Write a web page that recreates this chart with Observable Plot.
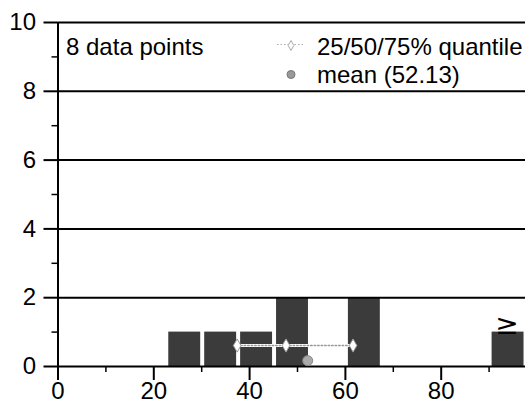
<!DOCTYPE html>
<html>
<head>
<meta charset="utf-8">
<script src="https://cdn.jsdelivr.net/npm/d3@7"></script>
<script src="https://cdn.jsdelivr.net/npm/@observablehq/plot@0.6"></script>
<style>
  html, body { margin: 0; padding: 0; background: white; }
</style>
</head>
<body>
<div id="chart"></div>
<script>
// Histogram bins (lower / upper edge) and counts
const binLow = [22.5, 30, 37.5, 45, 60, 90];
const binHigh = [30, 37.5, 45, 52.5, 67.5, 97.5];
const binCount = [1, 1, 1, 2, 2, 1];
// 25/50/75% quantiles and mean
const quantiles = [37.4, 47.6, 61.6];
const quantileLevel = 0.61;
const meanValue = [52.13];
const meanLevel = 0.17;
// tick values
const yMajor = [0, 2, 4, 6, 8, 10];
const yMinor = [1, 3, 5, 7, 9];
const xMajor = [0, 20, 40, 60, 80];
const xMinor = [10, 30, 50, 70, 90];
const gridLines = [2, 4, 6, 8, 10];
const nPoints = 8;

const bins = binLow.map((lo, i) => ({lo, hi: binHigh[i], n: binCount[i]}));
const lastBin = [bins[bins.length - 1]];

const lineSymbol = {
  draw(ctx, size) {
    ctx.moveTo(-14, 0);
    ctx.lineTo(14, 0);
  }
};

const chart = Plot.plot({
  width: 525,
  height: 410,
  marginLeft: 57.5,
  marginRight: 0,
  marginTop: 22,
  marginBottom: 44,
  x: {domain: [0, 97.6]},
  y: {domain: [0, 10]},
  style: {fontFamily: "'Liberation Sans', Arial, sans-serif", fontSize: "24px", color: "black", background: "white"},
  marks: [
    Plot.rectY(bins, {x1: "lo", x2: "hi", y: "n", fill: "#3b3b3b", insetLeft: 3, insetRight: 1}),
    Plot.ruleY(gridLines, {stroke: "black", strokeWidth: 2}),
    Plot.ruleY([0], {stroke: "black", strokeWidth: 2}),
    Plot.ruleX([0], {stroke: "black", strokeWidth: 2}),
    Plot.axisY({ticks: yMajor, tickSize: 14, tickPadding: 8, strokeWidth: 2, fontSize: 24, label: null}),
    Plot.axisY({ticks: yMinor, tickSize: 6, strokeWidth: 1.5, tickFormat: () => "", label: null}),
    Plot.axisX({ticks: xMajor, tickSize: 14, tickPadding: 1, strokeWidth: 2, fontSize: 24, label: null}),
    Plot.axisX({ticks: xMinor, tickSize: 6, strokeWidth: 1.5, tickFormat: () => "", label: null}),
    Plot.line(quantiles, {x: d => d, y: () => quantileLevel, stroke: "white", strokeWidth: 3}),
    Plot.line(quantiles, {x: d => d, y: () => quantileLevel, stroke: "#999", strokeWidth: 1.5, strokeDasharray: "1.5,2"}),
    Plot.dot(quantiles, {x: d => d, y: () => quantileLevel, symbol: "diamond", r: 4, fill: "white", stroke: "#999", strokeWidth: 1}),
    Plot.dot(meanValue, {x: d => d, y: () => meanLevel, r: 5, fill: "#aaa", stroke: "#888", strokeWidth: 1}),
    Plot.text(lastBin, {x: d => (d.lo + d.hi) / 2, y: "n", text: () => "≥", fontFamily: "'DejaVu Sans', sans-serif", fontSize: 28, lineAnchor: "bottom", dy: 2}),
    // legend
    Plot.text([`${nPoints} data points`], {frameAnchor: "top-left", textAnchor: "start", lineAnchor: "top", dx: 8, dy: 15, fontSize: 24}),
    Plot.text(["25/50/75% quantile"], {frameAnchor: "top-left", textAnchor: "start", lineAnchor: "top", dx: 259, dy: 15, fontSize: 24}),
    Plot.text([`mean (${meanValue[0].toFixed(2)})`], {frameAnchor: "top-left", textAnchor: "start", lineAnchor: "top", dx: 259, dy: 43, fontSize: 24}),
    Plot.dot([0], {frameAnchor: "top-left", dx: 233, dy: 22, symbol: lineSymbol, r: 5, fill: "none", stroke: "#aaa", strokeWidth: 1, strokeDasharray: "1.5,2"}),
    Plot.dot([0], {frameAnchor: "top-left", dx: 233, dy: 23, symbol: "diamond", r: 3, fill: "white", stroke: "#aaa", strokeWidth: 1}),
    Plot.dot([0], {frameAnchor: "top-left", dx: 233, dy: 52, r: 4, fill: "#999", stroke: "#777", strokeWidth: 1})
  ]
});
document.getElementById("chart").appendChild(chart);
</script>
</body>
</html>
